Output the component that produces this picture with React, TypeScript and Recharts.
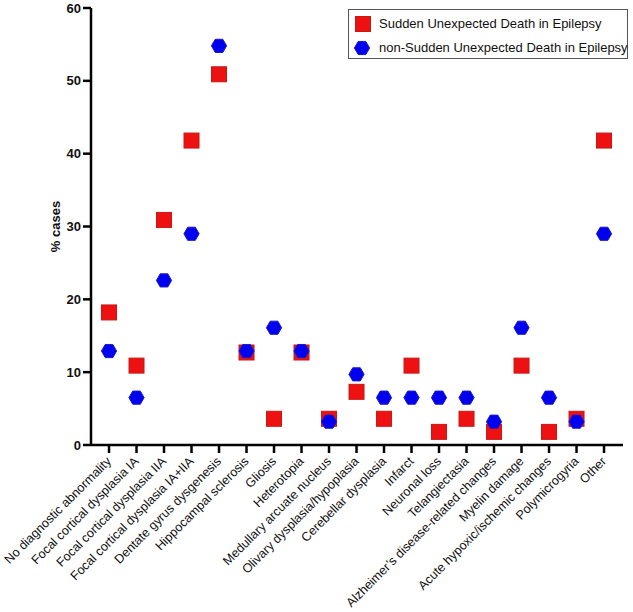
import React from "react";
import { ScatterChart, Scatter, XAxis, YAxis } from "recharts";

const categories = [
  "No diagnostic abnormality",
  "Focal cortical dysplasia IA",
  "Focal cortical dysplasia IIA",
  "Focal cortical dysplasia IA+IIA",
  "Dentate gyrus dysgenesis",
  "Hippocampal sclerosis",
  "Gliosis",
  "Heterotopia",
  "Medullary arcuate nucleus",
  "Olivary dysplasia/hypoplasia",
  "Cerebellar dysplasia",
  "Infarct",
  "Neuronal loss",
  "Telangiectasia",
  "Alzheimer\u2019s disease-related changes",
  "Myelin damage",
  "Acute hypoxic/ischemic changes",
  "Polymicrogyria",
  "Other",
];

const sudepValues = [18.2, 10.9, 30.9, 41.8, 50.9, 12.7, 3.6, 12.7, 3.6, 7.3, 3.6, 10.9, 1.8, 3.6, 1.8, 10.9, 1.8, 3.6, 41.8];
const nonSudepValues = [12.9, 6.5, 22.6, 29.0, 54.8, 12.9, 16.1, 12.9, 3.2, 9.7, 6.5, 6.5, 6.5, 6.5, 3.2, 16.1, 6.5, 3.2, 29.0];

const yTicks = [0, 10, 20, 30, 40, 50, 60];
const seriesNames = ["Sudden Unexpected Death in Epilepsy", "non-Sudden Unexpected Death in Epilepsy"];

const RED = "#ee1111";
const RED_EDGE = "#c81818";
const BLUE = "#0000ee";
const BLUE_EDGE = "#1a1acc";
const FONT = "'Liberation Sans', Arial, sans-serif";

const sudepData = categories.map((c, i) => ({ x: i, y: sudepValues[i], name: c }));
const nonSudepData = categories.map((c, i) => ({ x: i, y: nonSudepValues[i], name: c }));
const xTicks = categories.map((_, i) => i);

const hexPath = (cx: number, cy: number, r: number) => {
  const pts: string[] = [];
  for (let k = 0; k < 6; k++) {
    const a = (Math.PI / 3) * k;
    pts.push(`${cx + r * Math.cos(a)},${cy + r * Math.sin(a)}`);
  }
  return "M" + pts.join("L") + "Z";
};

const SquareShape = (props: any) => {
  const { cx, cy } = props;
  return <rect x={cx - 7.5} y={cy - 7.5} width={15} height={15} fill={RED} stroke={RED_EDGE} strokeWidth={1} />;
};

const HexShape = (props: any) => {
  const { cx, cy } = props;
  return <path d={hexPath(cx, cy, 7.6)} fill={BLUE} stroke={BLUE_EDGE} strokeWidth={1} />;
};

const XTick = (props: any) => {
  const { x, y, payload } = props;
  const label = categories[payload.value] ?? "";
  return (
    <g transform={`translate(${x + 3},${y + 7})`}>
      <text
        x={0}
        y={0}
        transform="rotate(-45)"
        textAnchor="end"
        fontSize={12.6}
        fontFamily={FONT}
        fill="#111"
      >
        {label}
      </text>
    </g>
  );
};

const LegendBox = () => (
  <div
    style={{
      position: "absolute",
      left: 348,
      top: 9,
      width: 280,
      height: 50,
      border: "1.5px solid #555",
      boxSizing: "border-box",
      background: "#fff",
      fontFamily: FONT,
      fontSize: 13,
      color: "#111",
    }}
  >
    <svg width={30} height={50} style={{ position: "absolute", left: 0, top: 0 }}>
      <rect x={6.5} y={6.5} width={15} height={15} fill={RED} stroke={RED_EDGE} strokeWidth={1} />
      <path d={hexPath(13, 38, 7.6)} fill={BLUE} stroke={BLUE_EDGE} strokeWidth={1} />
    </svg>
    <div style={{ position: "absolute", left: 30, top: 6, whiteSpace: "nowrap", lineHeight: "16px" }}>{seriesNames[0]}</div>
    <div style={{ position: "absolute", left: 30, top: 30, whiteSpace: "nowrap", lineHeight: "16px" }}>{seriesNames[1]}</div>
  </div>
);

export default function App() {
  return (
    <div style={{ position: "absolute", left: 0, top: 0, width: 633, height: 612, background: "#fff" }}>
      <ScatterChart width={633} height={612} margin={{ top: 8, right: 10, bottom: 0, left: 0 }}>
        <XAxis
          type="number"
          dataKey="x"
          domain={[-0.655, 18.69]}
          ticks={xTicks}
          interval={0}
          tick={<XTick />}
          tickSize={8}
          tickLine={{ stroke: "#000", strokeWidth: 2.5 }}
          axisLine={{ stroke: "#000", strokeWidth: 2.5 }}
          allowDataOverflow
          height={167}
        />
        <YAxis
          type="number"
          dataKey="y"
          domain={[0, 60]}
          ticks={yTicks}
          width={91}
          tickSize={8}
          tickMargin={2}
          tick={{ fontSize: 13, fontWeight: 700, fill: "#111", fontFamily: FONT }}
          tickLine={{ stroke: "#000", strokeWidth: 2.5 }}
          axisLine={{ stroke: "#000", strokeWidth: 2.5 }}
          label={{
            value: "% cases",
            angle: -90,
            position: "insideLeft",
            offset: 0,
            dx: 55,
            style: { fontSize: 13, fontWeight: 700, fill: "#111", fontFamily: FONT, textAnchor: "middle" },
          }}
        />
        <Scatter name={seriesNames[0]} data={sudepData} shape={<SquareShape />} isAnimationActive={false} />
        <Scatter name={seriesNames[1]} data={nonSudepData} shape={<HexShape />} isAnimationActive={false} />
      </ScatterChart>
      <LegendBox />
    </div>
  );
}
